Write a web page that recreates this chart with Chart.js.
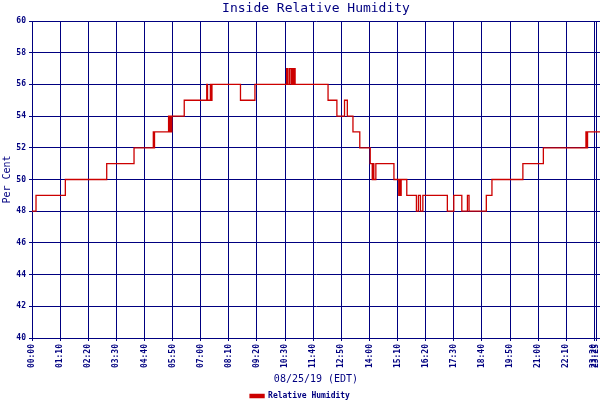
<!DOCTYPE html>
<html>
<head>
<meta charset="utf-8">
<script src="https://cdn.jsdelivr.net/npm/chart.js@4/dist/chart.umd.min.js"></script>
<style>
  html, body { margin: 0; padding: 0; background: #fff; }
  canvas { display: block; }
</style>
</head>
<body>
<canvas id="rhChart" width="600" height="400"></canvas>
<script>
// minutes after midnight where the reading changes, and the reading from then on
const times = [0, 10, 83, 186, 254, 302, 303, 305, 340, 342, 344, 346, 348, 379,
  435, 437, 444, 446, 448, 519, 555, 634, 637, 641, 645, 647, 650, 652, 655,
  737, 759, 778, 785, 799, 816, 842, 847, 849, 851, 856, 901, 913, 915, 917, 919,
  933, 957, 962, 967, 973, 1034, 1050, 1070, 1084, 1088, 1131, 1145, 1222, 1273,
  1379, 1381, 1383, 1414];
const rh = [48, 49, 50, 51, 52, 53, 52, 53, 54, 53, 54, 53, 54, 55,
  56, 55, 56, 55, 56, 55, 56, 57, 56, 57, 56, 57, 56, 57, 56,
  55, 54, 55, 54, 53, 52, 51, 50, 51, 50, 51, 50, 49, 50, 49, 50,
  49, 48, 49, 48, 49, 48, 49, 48, 49, 48, 49, 50, 51, 52,
  53, 52, 53, 53];
const xTickMins = [0, 70, 140, 210, 280, 350, 420, 490, 560, 630, 700, 770, 840,
  910, 980, 1050, 1120, 1190, 1260, 1330, 1400, 1405];
const yMin = 40, yMax = 60, yStep = 2;
const xMax = 1414;

const navy = '#000080';
const mono = 'DejaVu Sans Mono';

function hhmm(m) {
  const h = Math.floor(m / 60), mm = m % 60;
  return String(h).padStart(2, '0') + ':' + String(mm).padStart(2, '0');
}

const points = times.map((t, i) => ({ x: t, y: rh[i] }));

const ctx = document.getElementById('rhChart').getContext('2d');
const chart = new Chart(ctx, {
  type: 'line',
  data: {
    datasets: [{
      label: 'Relative Humidity',
      data: points,
      borderColor: '#cc0000',
      backgroundColor: '#cc0000',
      borderWidth: 1.3,
      pointRadius: 0,
      stepped: true,
      fill: false,
    }],
  },
  options: {
    responsive: false,
    animation: false,
    devicePixelRatio: 1,
    layout: { padding: { top: 0, left: 0, right: 0, bottom: -10 } },
    plugins: {
      title: {
        display: true,
        text: 'Inside Relative Humidity',
        color: navy,
        fullSize: false,
        font: { family: mono, size: 13, weight: 'normal' },
        padding: { top: 1, bottom: 4.4 },
      },
      legend: {
        position: 'bottom',
        labels: {
          color: navy,
          font: { family: mono, size: 8, weight: 'bold' },
          boxWidth: 14,
          boxHeight: 3,
          padding: 1,
        },
      },
      tooltip: { enabled: false },
    },
    scales: {
      x: {
        type: 'linear',
        min: 0,
        max: xMax,
        afterBuildTicks: (scale) => {
          scale.ticks = xTickMins.map(v => ({ value: v }));
        },
        afterFit: (scale) => {
          scale.height = 53;
          scale.paddingRight = 0;
          scale.paddingLeft = 0;
        },
        ticks: {
          autoSkip: false,
          minRotation: 90,
          maxRotation: 90,
          padding: 3,
          color: navy,
          font: { family: mono, size: 8, weight: 'bold' },
          callback: (v) => hhmm(v),
        },
        grid: { color: navy, lineWidth: 1, tickLength: 3 },
        border: { color: navy, width: 1 },
        title: {
          display: true,
          text: '08/25/19 (EDT)',
          color: navy,
          font: { family: mono, size: 10, weight: 'normal' },
          padding: 6,
        },
      },
      y: {
        min: yMin,
        max: yMax,
        afterFit: (scale) => {
          scale.width = 32;
        },
        ticks: {
          stepSize: yStep,
          padding: 3,
          color: navy,
          font: { family: mono, size: 8, weight: 'bold' },
        },
        grid: { color: navy, lineWidth: 1, tickLength: 3 },
        border: { color: navy, width: 1 },
        title: {
          display: true,
          text: 'Per Cent',
          color: navy,
          font: { family: mono, size: 10, weight: 'normal' },
          padding: 1,
        },
      },
    },
  },
});
</script>
</body>
</html>
